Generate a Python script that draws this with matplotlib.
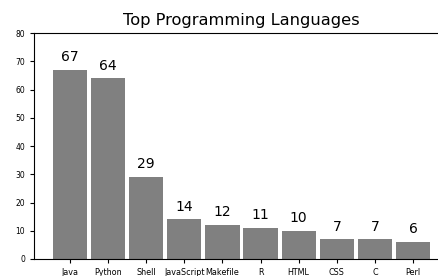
import matplotlib
matplotlib.use("Agg")
import matplotlib.pyplot as plt

languages = ["Java", "Python", "Shell", "JavaScript", "Makefile", "R", "HTML", "CSS", "C", "Perl"]
counts = [67, 64, 29, 14, 12, 11, 10, 7, 7, 6]

fig = plt.figure(figsize=(4.39, 2.76), dpi=100)
ax = fig.add_axes([0.0774, 0.0616, 0.9454, 0.8188])
bars = ax.bar(range(len(languages)), counts, width=0.9, color="gray")
ax.set_xticks(range(len(languages)))
ax.set_xticklabels(languages, fontsize=5.8)
ax.tick_params(axis="y", labelsize=5.5)
ax.tick_params(axis="both", length=3, width=0.8)
ax.set_ylim(0, 80)
for b, v in zip(bars, counts):
    ax.text(b.get_x() + b.get_width() / 2, v + 2, str(v), ha="center", va="bottom", fontsize=10)
ax.set_title("Top Programming Languages", fontsize=11.7, pad=6)
fig.savefig("out.png", dpi=100)
